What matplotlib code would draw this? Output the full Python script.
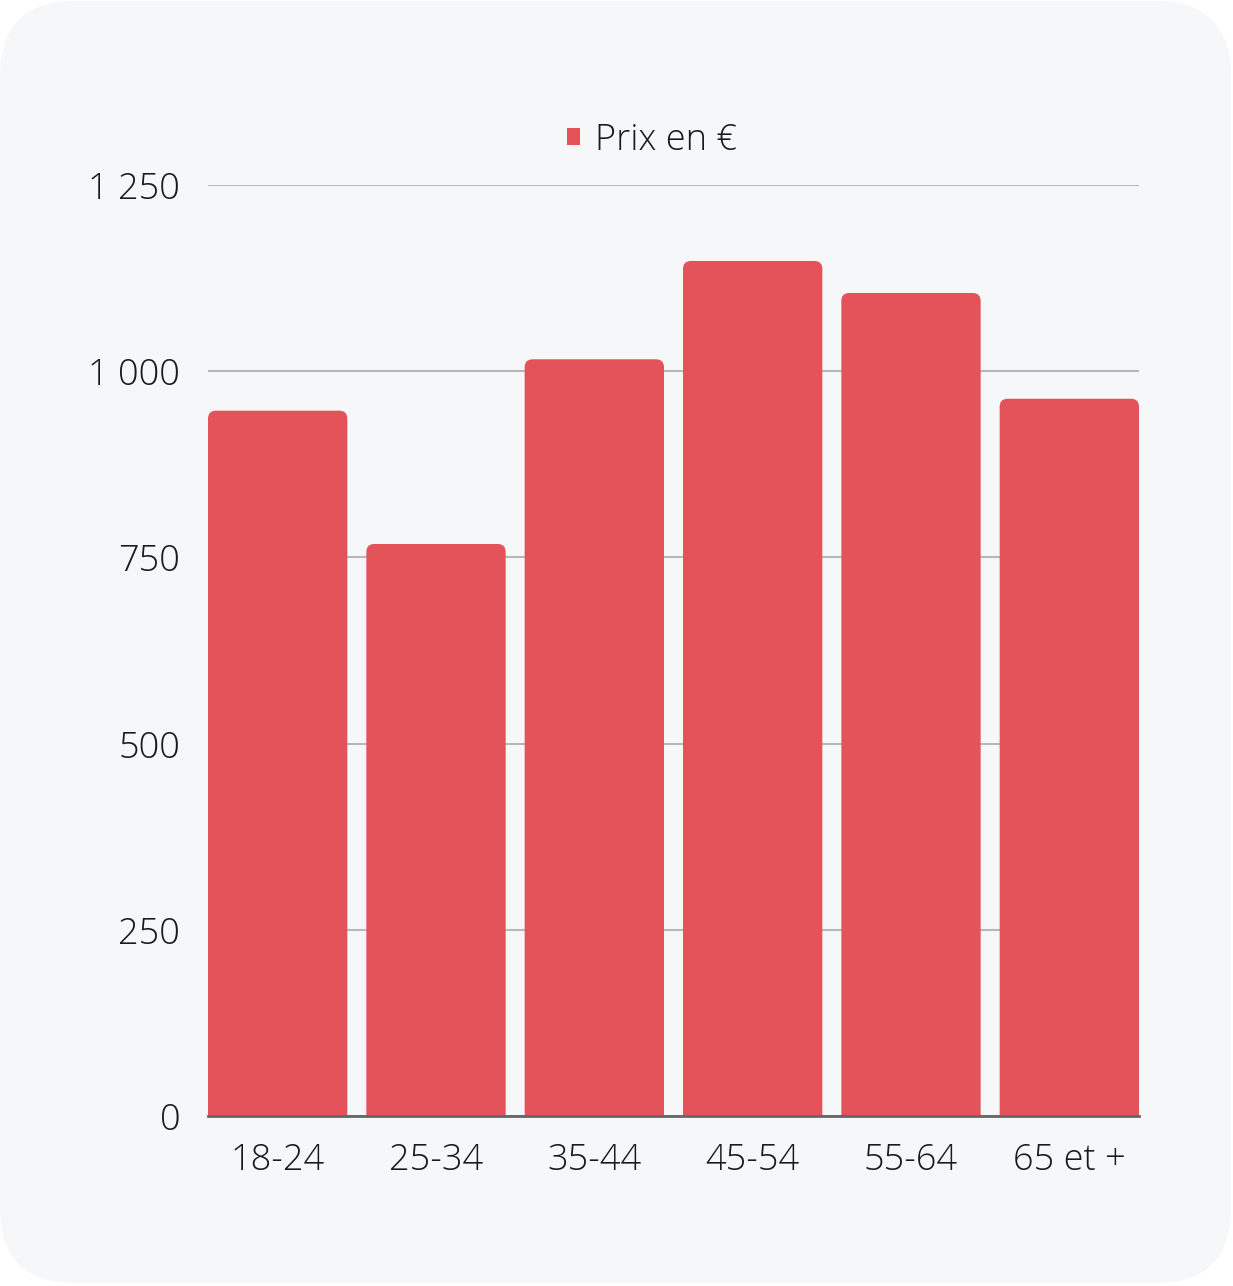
import matplotlib
matplotlib.use("Agg")
import matplotlib.pyplot as plt
from matplotlib.patches import FancyBboxPatch, Patch
from matplotlib.ticker import FuncFormatter

plt.rcParams["font.family"] = ["Open Sans", "DejaVu Sans"]

# Data
categories = ["18-24", "25-34", "35-44", "45-54", "55-64", "65 et +"]
prices = [947, 768, 1016, 1148, 1105, 963]
series_name = "Prix en €"
y_ticks = [0, 250, 500, 750, 1000, 1250]

BAR = "#E5535A"
CARD = "#F6F7F9"
GRID = "#B8B8B8"
TXT = "#1A1A1A"

W, H = 1233, 1286
fig = plt.figure(figsize=(W / 100, H / 100), dpi=100, facecolor="white")

# rounded card background
card = FancyBboxPatch((0, 3 / H), 1231 / W, 1 - 4 / H,
                      boxstyle=f"round,pad=0,rounding_size={75 / W}",
                      mutation_aspect=W / H, transform=fig.transFigure,
                      facecolor=CARD, edgecolor="none", zorder=-10)
fig.patches.append(card)

ax = fig.add_axes([208 / W, 1 - 1116 / H, (1139 - 208) / W, (1116 - 185) / H])
ax.set_facecolor("none")

bars = ax.bar(range(len(categories)), prices, width=0.88, color=BAR, zorder=2)
ax.set_xlim(-0.44, len(categories) - 1 + 0.44)
ax.set_ylim(0, 1250)

# swap plain bars for ones with rounded top corners (8 px)
px_x = ax.get_position().width * W / (ax.get_xlim()[1] - ax.get_xlim()[0])
px_y = ax.get_position().height * H / 1250
r = 8 / px_x
aspect = px_x / px_y
for b in bars:
    x, w, h = b.get_x(), b.get_width(), b.get_height()
    b.remove()
    ax.add_patch(FancyBboxPatch((x, -30), w, h + 30,
                                boxstyle=f"round,pad=0,rounding_size={r}",
                                mutation_aspect=aspect, facecolor=BAR,
                                edgecolor="none", zorder=2))

ax.set_yticks(y_ticks)
ax.yaxis.set_major_formatter(FuncFormatter(lambda v, p: f"{int(v):,}".replace(",", " ")))
ax.set_xticks(range(len(categories)))
ax.set_xticklabels(categories)
ax.grid(axis="y", color=GRID, linewidth=1.5, zorder=0)
ax.tick_params(axis="both", length=0, labelsize=26, colors=TXT)
ax.tick_params(axis="y", pad=20)
ax.tick_params(axis="x", pad=18.5)
for lab in ax.get_xticklabels() + ax.get_yticklabels():
    lab.set_fontweight("light")

for s in ["top", "right", "left"]:
    ax.spines[s].set_visible(False)
ax.spines["bottom"].set_color("#666666")
ax.spines["bottom"].set_linewidth(2)
ax.spines["bottom"].set_zorder(3)

leg = fig.legend(handles=[Patch(facecolor=BAR, label=series_name)],
                 loc="center", bbox_to_anchor=(652 / W, 1 - 140 / H),
                 frameon=False, handlelength=0.36, handleheight=0.36,
                 handletextpad=0.42, prop={"weight": "light", "size": 26})
for t in leg.get_texts():
    t.set_color(TXT)

fig.savefig("out.png", dpi=100, facecolor="white")
